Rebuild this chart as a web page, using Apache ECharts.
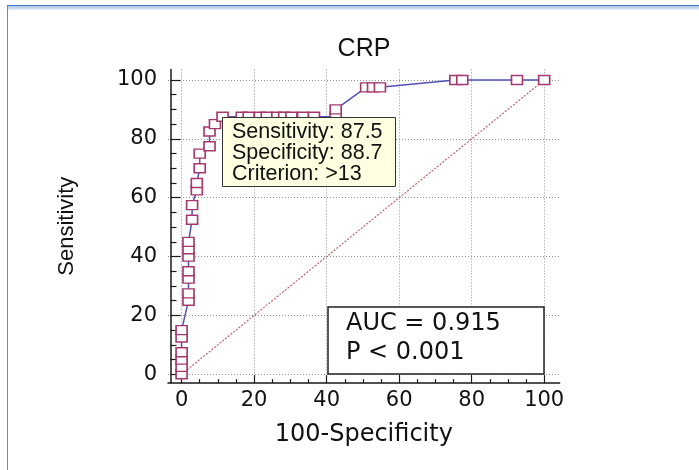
<!DOCTYPE html>
<html><head><meta charset="utf-8">
<script src="https://cdn.jsdelivr.net/npm/echarts@6/dist/echarts.min.js"></script>
<style>
html,body{margin:0;padding:0;background:#fff;overflow:hidden;}
#frame{position:absolute;left:7px;top:5px;width:700px;height:470px;border-left:1.5px solid #5b8bd0;border-top:1px solid #4a7cc4;}
#strip{position:absolute;left:0;top:0;right:0;height:4px;background:linear-gradient(#aac5ea,#e6eef9);}
#chart{position:absolute;left:0;top:0;width:699px;height:470px;}
</style></head><body>
<div id="frame"><div id="strip"></div></div>
<div id="chart"></div>
<script>
const titleText = 'CRP';
const xName = '100-Specificity';
const yName = 'Sensitivity';
const majorTicks = [0, 20, 40, 60, 80, 100];
const minorTicks = [5, 10, 15, 25, 30, 35, 45, 50, 55, 65, 70, 75, 85, 90, 95];
const rocX = [0, 0, 0, 0, 0, 0,
  1.9, 1.9, 1.9, 1.9, 1.9, 1.9, 1.9,
  2.9, 2.9, 4.2, 4.2, 5.0, 5.0, 7.7, 7.7, 9.2,
  11.3, 16.6, 18.5, 21.6, 23.5, 26.4, 28.3, 30.3, 33.5, 36.5,
  42.5, 42.5, 50.9, 52.8, 54.7, 75.5, 77.4, 92.5, 100];
const rocY = [0, 2.5, 5, 7.5, 12.5, 15,
  25, 27.5, 32.5, 35, 40, 42.5, 45,
  52.5, 57.5, 62.5, 65, 70, 75, 77.5, 82.5, 85,
  87.5, 87.5, 87.5, 87.5, 87.5, 87.5, 87.5, 87.5, 87.5, 87.5,
  87.5, 90, 97.5, 97.5, 97.5, 100, 100, 100, 100];
const diagX = [0, 100];
const diagY = [0, 100];
const infoLines = ['Sensitivity: 87.5', 'Specificity: 88.7', 'Criterion: >13'];
const aucLines = ['AUC = 0.915', 'P < 0.001'];

const XR = {min: -3.75, max: 104.25};
const YR = {min: -3, max: 103.6};
const axisColor = '#1a1a1a';
const tickFont = {fontFamily: 'DejaVu Sans', fontSize: 21, color: '#111'};

const chart = echarts.init(document.getElementById('chart'), null, {renderer: 'canvas'});
const option = {
  animation: false,
  grid: {left: 168, top: 69.4, width: 391.6, height: 313.7, containLabel: false, outerBoundsMode: 'none'},
  xAxis: [
    {type: 'value', min: XR.min, max: XR.max, position: 'bottom',
     axisLine: {show: true, onZero: false, lineStyle: {color: axisColor, width: 1.5}},
     axisTick: {show: true, inside: true, length: 8, customValues: majorTicks, lineStyle: {color: axisColor, width: 1.2}},
     axisLabel: Object.assign({show: true, customValues: majorTicks, margin: 7}, tickFont),
     splitLine: {show: true, lineStyle: {type: [1, 2], color: '#8f8f8f', width: 1}},
     name: xName, nameLocation: 'middle', nameGap: 40,
     nameTextStyle: {fontFamily: 'DejaVu Sans', fontSize: 24, color: '#111'}},
    {type: 'value', min: XR.min, max: XR.max, position: 'bottom',
     axisLine: {show: false, onZero: false},
     axisTick: {show: true, inside: true, length: 4, customValues: minorTicks, lineStyle: {color: axisColor, width: 1.2}},
     axisLabel: {show: false}, splitLine: {show: false}}
  ],
  yAxis: [
    {type: 'value', min: YR.min, max: YR.max, position: 'left', offset: -2.5,
     axisLine: {show: true, onZero: false, lineStyle: {color: axisColor, width: 1.5}},
     axisTick: {show: true, inside: true, length: 10, customValues: majorTicks, lineStyle: {color: axisColor, width: 1.2}},
     axisLabel: Object.assign({show: true, customValues: majorTicks, margin: 13.5}, tickFont),
     splitLine: {show: true, lineStyle: {type: [1, 2], color: '#8f8f8f', width: 1}},
     name: yName, nameLocation: 'middle', nameGap: 93,
     nameTextStyle: {fontFamily: 'Liberation Sans', fontSize: 22, color: '#111'}},
    {type: 'value', min: YR.min, max: YR.max, position: 'left', offset: -2.5,
     axisLine: {show: false, onZero: false},
     axisTick: {show: true, inside: true, length: 6, customValues: minorTicks, lineStyle: {color: axisColor, width: 1.2}},
     axisLabel: {show: false}, splitLine: {show: false}}
  ],
  series: [
    {type: 'line', xAxisIndex: 0, yAxisIndex: 0, silent: true, symbol: 'none',
     data: diagX.map((x, i) => [x, diagY[i]]),
     lineStyle: {color: '#c26565', width: 1.2, type: [2, 1.5]}, z: 2},
    {type: 'line', xAxisIndex: 0, yAxisIndex: 0, silent: true, clip: false,
     data: rocX.map((x, i) => [x, rocY[i]]),
     symbol: 'rect', symbolSize: [11, 9], showAllSymbol: true,
     itemStyle: {color: '#ffffff', borderColor: '#a5396f', borderWidth: 1.5},
     lineStyle: {color: '#5151b8', width: 1.5}, z: 3}
  ],
  graphic: [
    {type: 'text', x: 364, y: 37, z: 100,
     style: {text: titleText, font: '25px "Liberation Sans", Arial', fill: '#111',
             textAlign: 'center', align: 'center', textVerticalAlign: 'top', verticalAlign: 'top'}},
    {type: 'rect', z: 100, shape: {x: 222.5, y: 117.5, width: 173, height: 69},
     style: {fill: '#ffffe1', stroke: '#333', lineWidth: 1}},
    ...infoLines.map((t, i) => ({type: 'text', x: 232, y: 121 + i * 20.8, z: 101,
     style: {text: t, font: '21.5px "Liberation Sans", Arial', fill: '#111',
             textAlign: 'left', align: 'left', textVerticalAlign: 'top', verticalAlign: 'top'}})),
    {type: 'rect', z: 100, shape: {x: 328, y: 307, width: 216, height: 67},
     style: {fill: '#ffffff', stroke: '#222', lineWidth: 1.5}},
    ...aucLines.map((t, i) => ({type: 'text', x: 346, y: 312 + i * 28.5, z: 101,
     style: {text: t, font: '24px "DejaVu Sans"', fill: '#111',
             textAlign: 'left', align: 'left', textVerticalAlign: 'top', verticalAlign: 'top'}}))
  ]
};
chart.setOption(option);
</script>
</body></html>
